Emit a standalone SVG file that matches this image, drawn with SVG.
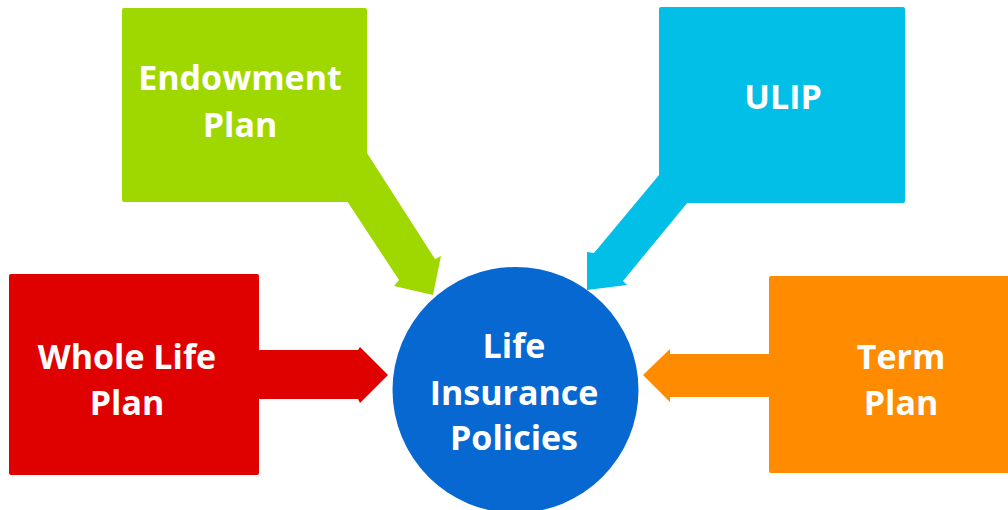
<svg xmlns="http://www.w3.org/2000/svg" width="1008" height="510" viewBox="0 0 1008 510">
<style>
.lbl{font-family:"Open Sans","Liberation Sans",sans-serif;font-weight:bold;font-size:34px;fill:#fff;text-anchor:middle}
.green{fill:#9fd700}
.cyan{fill:#02bfe8}
.red{fill:#df0000}
.orange{fill:#ff8c00}
.blue{fill:#0668d0}
</style>
<rect width="1008" height="510" fill="#fff"/>
<g id="connectors">
<polygon class="green" points="360,150 367,153 435,259 441,256 433,295 394,286 399,280 347,201 360,201"/>
<polygon class="cyan" points="665,170 659,175 594,253 587,252 587,290 627,285 623,281 688,202 665,202"/>
<polygon class="red" points="255,350 358,350 360,347 388,375 360,403 358,399 255,399"/>
<polygon class="orange" points="772,354 670,354 670,349 643,375 670,402 670,397 772,397"/>
</g>
<g id="endowment">
<rect class="green" x="122" y="8" width="245" height="194" rx="2"/>
<text class="lbl" x="240" y="90">Endowment</text>
<text class="lbl" x="240" y="137">Plan</text>
</g>
<g id="ulip">
<rect class="cyan" x="659" y="7" width="246" height="196" rx="2"/>
<text class="lbl" x="783" y="109">ULIP</text>
</g>
<g id="whole-life">
<rect class="red" x="9" y="274" width="250" height="201" rx="2"/>
<text class="lbl" x="127" y="369">Whole Life</text>
<text class="lbl" x="127" y="415">Plan</text>
</g>
<g id="term">
<rect class="orange" x="769" y="276" width="245" height="197" rx="2"/>
<text class="lbl" x="901" y="369">Term</text>
<text class="lbl" x="901" y="415">Plan</text>
</g>
<g id="life-insurance">
<circle class="blue" cx="515.5" cy="390" r="123"/>
<text class="lbl" x="514" y="358">Life</text>
<text class="lbl" x="514" y="405">Insurance</text>
<text class="lbl" x="514" y="450">Policies</text>
</g>
</svg>
